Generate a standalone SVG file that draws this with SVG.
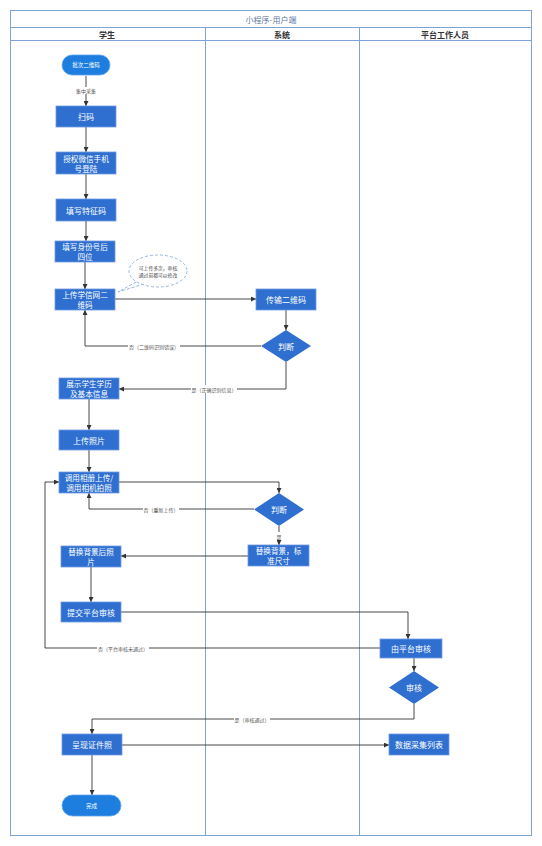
<svg xmlns="http://www.w3.org/2000/svg" width="542" height="846" viewBox="0 0 542 846">
<style>
.frame{fill:none;stroke:#7ea3d6;stroke-width:1}
.box{fill:#2e6fcf;stroke:#6e9be0;stroke-width:0.8}
.pill{fill:#1d7ee0;stroke:#5fa3ea;stroke-width:0.8}
.dia{fill:#2e6fcf}
.t{font-family:"Noto Sans CJK SC","Noto Sans",sans-serif;font-size:8px;fill:#fff;text-anchor:middle;dominant-baseline:central}
.t2{font-family:"Noto Sans CJK SC","Noto Sans",sans-serif;font-size:7.6px;fill:#fff;text-anchor:middle;dominant-baseline:central}
.ts{font-family:"Noto Sans CJK SC","Noto Sans",sans-serif;font-size:5.5px;fill:#fff;text-anchor:middle;dominant-baseline:central}
.hd{font-family:"Noto Sans CJK SC","Noto Sans",sans-serif;font-size:8px;font-weight:bold;fill:#333;text-anchor:middle;dominant-baseline:central}
.ttl{font-family:"Noto Sans CJK SC","Noto Sans",sans-serif;font-size:8px;fill:#5f7aa8;text-anchor:middle;dominant-baseline:central}
.e{fill:none;stroke:#333;stroke-width:0.9;marker-end:url(#a)}
.lbl{font-family:"Noto Sans CJK SC","Noto Sans",sans-serif;font-size:5px;fill:#555;text-anchor:middle;dominant-baseline:central}
.cl{font-family:"Noto Sans CJK SC","Noto Sans",sans-serif;font-size:4.8px;fill:#444;text-anchor:middle;dominant-baseline:central}
.lb{fill:#fff}
</style>
<defs>
<marker id="a" viewBox="0 0 10 10" refX="10" refY="5" markerWidth="5" markerHeight="5" orient="auto" markerUnits="userSpaceOnUse"><path d="M0,0 L10,5 L0,10 z" fill="#333"/></marker>
</defs>
<rect width="542" height="846" fill="#fff"/>
<g id="lanes">
<rect class="frame" x="10.5" y="10.5" width="521" height="825"/>
<line class="frame" x1="10.5" y1="27.5" x2="531.5" y2="27.5"/>
<line class="frame" x1="10.5" y1="40.5" x2="531.5" y2="40.5"/>
<line class="frame" x1="205.5" y1="27.5" x2="205.5" y2="835.5"/>
<line class="frame" x1="359.5" y1="27.5" x2="359.5" y2="835.5"/>
<text class="ttl" x="271" y="19">小程序-用户端</text>
<text class="hd" x="107" y="34">学生</text>
<text class="hd" x="282" y="34">系统</text>
<text class="hd" x="445" y="34">平台工作人员</text>
</g>
<g id="connectors">
<path class="e" d="M86,76 V106"/>
<rect class="lb" x="75" y="87" width="22" height="7"/>
<text class="lbl" x="86" y="90.5">集中采集</text>
<path class="e" d="M86,127 V152"/>
<path class="e" d="M86,174 V199"/>
<path class="e" d="M86,221 V241"/>
<path class="e" d="M85,262 V289"/>
<path class="e" d="M115,299 H256"/>
<path class="e" d="M286,310 V330"/>
<path class="e" d="M261,346 H85 V310"/>
<rect class="lb" x="128" y="342" width="52" height="8"/>
<text class="lbl" x="154" y="346">否（二维码识别错误）</text>
<path class="e" d="M286,362 V389 H119"/>
<rect class="lb" x="191" y="385" width="46" height="8"/>
<text class="lbl" x="214" y="389">是（正确识别信息）</text>
<path class="e" d="M89,399 V430"/>
<path class="e" d="M89,450 V472"/>
<path class="e" d="M119,482 H279 V493"/>
<path class="e" d="M254,509 H89 V493"/>
<rect class="lb" x="143" y="505" width="36" height="8"/>
<text class="lbl" x="161" y="509">否（重新上传）</text>
<path class="e" d="M279,526 V545"/>
<rect class="lb" x="276" y="532" width="6" height="8"/>
<text class="lbl" x="279" y="536">是</text>
<path class="e" d="M248,556 H121"/>
<path class="e" d="M91,567 V602"/>
<path class="e" d="M121,612 H408 V639"/>
<path class="e" d="M380,648 H45 V482 H59"/>
<rect class="lb" x="97" y="644" width="52" height="8"/>
<text class="lbl" x="123" y="648">否（平台审核未通过）</text>
<path class="e" d="M414,658 V671"/>
<path class="e" d="M414,704 V719 H92 V734"/>
<rect class="lb" x="234" y="715" width="36" height="8"/>
<text class="lbl" x="252" y="719">是（审核通过）</text>
<path class="e" d="M122,745 H389"/>
<path class="e" d="M92,755 V795"/>
</g>
<g id="n_start"><rect class="pill" x="62" y="55" width="48" height="20" rx="10"/><text class="ts" x="86" y="65">批次二维码</text></g>
<g id="n_scan"><rect class="box" x="56" y="106" width="60" height="21"/><text class="t" x="86" y="116.5">扫码</text></g>
<g id="n_auth"><rect class="box" x="56" y="152" width="60" height="22"/><text class="t2" x="86" y="158">授权微信手机</text><text class="t2" x="86" y="168">号登陆</text></g>
<g id="n_code"><rect class="box" x="56" y="199" width="60" height="22"/><text class="t" x="86" y="210">填写特征码</text></g>
<g id="n_id"><rect class="box" x="55" y="241" width="60" height="21"/><text class="t2" x="85" y="246.5">填写身份号后</text><text class="t2" x="85" y="256.5">四位</text></g>
<g id="n_callout"><path d="M144,284 L118,292 L138,281" fill="#fff" stroke="#7ea3d6" stroke-width="0.8" stroke-dasharray="3,2"/><ellipse cx="158" cy="271" rx="29" ry="16" fill="#fff" stroke="#7ea3d6" stroke-width="0.8" stroke-dasharray="3,2"/><text class="cl" x="158" y="267.5">可上传多次，审核</text><text class="cl" x="158" y="274.5">通过前都可以修改</text></g>
<g id="n_upload_qr"><rect class="box" x="55" y="289" width="60" height="21"/><text class="t2" x="85" y="294.5">上传学信网二</text><text class="t2" x="85" y="304.5">维码</text></g>
<g id="n_trans"><rect class="box" x="256" y="289" width="60" height="21"/><text class="t" x="286" y="299.5">传输二维码</text></g>
<g id="n_judge1"><path class="dia" d="M286,330 L311,346 L286,362 L261,346 Z"/><text class="t" x="286" y="346">判断</text></g>
<g id="n_show"><rect class="box" x="59" y="378" width="60" height="21"/><text class="t2" x="89" y="383.5">展示学生学历</text><text class="t2" x="89" y="393.5">及基本信息</text></g>
<g id="n_photo"><rect class="box" x="59" y="430" width="60" height="20"/><text class="t" x="89" y="440">上传照片</text></g>
<g id="n_album"><rect class="box" x="59" y="472" width="60" height="21"/><text class="t2" x="89" y="477.5">调用相册上传/</text><text class="t2" x="89" y="487.5">调用相机拍照</text></g>
<g id="n_judge2"><path class="dia" d="M279,493 L304,509.5 L279,526 L254,509.5 Z"/><text class="t" x="279" y="509.5">判断</text></g>
<g id="n_replace"><rect class="box" x="248" y="545" width="61" height="21"/><text class="t2" x="278.5" y="550.5">替换背景，标</text><text class="t2" x="278.5" y="560.5">准尺寸</text></g>
<g id="n_replaced"><rect class="box" x="61" y="546" width="60" height="21"/><text class="t2" x="91" y="551.5">替换背景后照</text><text class="t2" x="91" y="561.5">片</text></g>
<g id="n_submit"><rect class="box" x="61" y="602" width="60" height="20"/><text class="t" x="91" y="612">提交平台审核</text></g>
<g id="n_review"><rect class="box" x="380" y="639" width="62" height="19"/><text class="t" x="411" y="648.5">由平台审核</text></g>
<g id="n_audit"><path class="dia" d="M414,671 L439,687.5 L414,704 L389,687.5 Z"/><text class="t" x="414" y="687.5">审核</text></g>
<g id="n_show_photo"><rect class="box" x="62" y="734" width="60" height="21"/><text class="t" x="92" y="744.5">呈现证件照</text></g>
<g id="n_list"><rect class="box" x="389" y="734" width="60" height="21"/><text class="t" x="419" y="744.5">数据采集列表</text></g>
<g id="n_end"><rect class="pill" x="62" y="795" width="59" height="21" rx="10.5"/><text class="ts" x="91.5" y="805.5">完成</text></g>
</svg>
